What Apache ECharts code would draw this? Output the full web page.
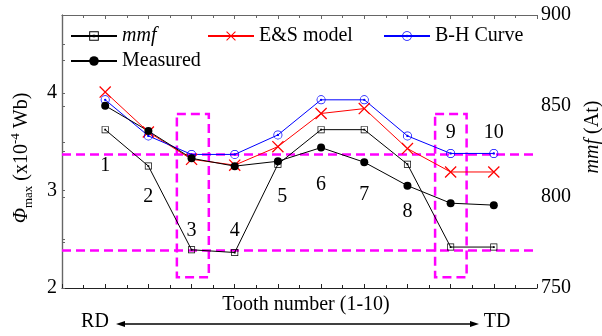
<!DOCTYPE html>
<html><head><meta charset="utf-8">
<script src="https://cdn.jsdelivr.net/npm/echarts@6/dist/echarts.min.js"></script>
<style>html,body{margin:0;padding:0;background:#fff}#c{width:602px;height:336px}</style>
</head><body><div id="c"></div>
<script>
// ---- data ----
const teeth = [1, 2, 3, 4, 5, 6, 7, 8, 9, 10];
const mmfValues = [837, 817, 771, 769.5, 818, 837, 837, 818, 772.5, 772.5];   // At, right axis
const esModel = [4.01, 3.60, 3.32, 3.26, 3.45, 3.79, 3.84, 3.43, 3.19, 3.19];   // x10^-4 Wb
const bhCurve = [3.93, 3.56, 3.37, 3.37, 3.57, 3.93, 3.93, 3.56, 3.38, 3.38];
const measured = [3.87, 3.61, 3.33, 3.25, 3.30, 3.44, 3.29, 3.05, 2.87, 2.85];
const toothLabels = ['1', '2', '3', '4', '5', '6', '7', '8', '9', '10'];
const toothLabelX = [1, 2, 3, 4, 5.1, 6, 7, 8, 9, 10];
const toothLabelY = [3.25, 2.94, 2.585, 2.585, 2.94, 3.056, 2.96, 2.78, 3.59, 3.59];
const refLines = [3.37, 2.39];
const boxX = [[2.66, 3.40], [8.64, 9.37]];
const boxY = [2.11, 3.785];
const leftTickLabels = ['2', '3', '4'];
const rightTickLabels = ['750', '800', '850', '900'];

const FONT = 'Liberation Serif';
const MAG = '#ff00ff';
const circleDot = 'path://M0,-10A10,10 0 1,1 0,10A10,10 0 1,1 0,-10ZM0,-8.3A8.3,8.3 0 1,0 0,8.3A8.3,8.3 0 1,0 0,-8.3ZM0,-2.6A2.6,2.6 0 1,1 0,2.6A2.6,2.6 0 1,1 0,-2.6Z';
const squareDot = 'path://M-10,-10L10,-10L10,10L-10,10ZM-8,-8L-8,8L8,8L8,-8ZM-2.6,-2.6L2.6,-2.6L2.6,2.6L-2.6,2.6Z';
const cross = 'path://M-10,-8.5L-8.5,-10L10,8.5L8.5,10ZM10,-8.5L-8.5,10L-10,8.5L8.5,-10Z';

const pair = (xs, ys) => xs.map((x, i) => [x, ys[i]]);

const chart = echarts.init(document.getElementById('c'), null, {renderer: 'canvas'});
const axisCol = '#666';
const legendBase = {
  orient: 'horizontal', itemWidth: 46, itemHeight: 12, itemGap: 0,
  textStyle: {fontFamily: FONT, fontSize: 20, color: '#000'},
  selectedMode: false, padding: 0
};
chart.setOption({
  animation: false,
  backgroundColor: '#fff',
  textStyle: {fontFamily: FONT},
  grid: {left: 62, right: 65, top: 15, bottom: 48, containLabel: false},
  legend: [
    Object.assign({}, legendBase, {left: 70, top: 26, data: ['mmf'],
      textStyle: {fontFamily: FONT, fontSize: 20, color: '#000', fontStyle: 'italic'}}),
    Object.assign({}, legendBase, {left: 207, top: 26, data: ['E&S model']}),
    Object.assign({}, legendBase, {left: 383, top: 26, data: ['B-H Curve']}),
    Object.assign({}, legendBase, {left: 70, top: 51, data: ['Measured']})
  ],
  xAxis: [
    {type: 'value', min: 0, max: 11, interval: 1, position: 'bottom',
      axisLine: {lineStyle: {color: '#222', width: 1.2}},
      axisTick: {inside: true, length: 4, lineStyle: {color: '#222'}},
      minorTick: {show: true, splitNumber: 2, length: 3, lineStyle: {color: '#222'}},
      axisLabel: {show: false}, splitLine: {show: false}},
    {type: 'value', min: 0, max: 11, interval: 1, position: 'top',
      axisLine: {lineStyle: {color: axisCol, width: 1.2}},
      axisTick: {inside: true, length: 4, lineStyle: {color: axisCol}},
      minorTick: {show: true, splitNumber: 2, length: 3, lineStyle: {color: axisCol}},
      axisLabel: {show: false}, splitLine: {show: false}}
  ],
  yAxis: [
    {type: 'value', min: 2, max: 4.8, interval: 0.5, position: 'left',
      axisLine: {show: true, lineStyle: {color: axisCol, width: 1.2}},
      axisTick: {inside: true, length: 3, lineStyle: {color: axisCol}},
      axisLabel: {fontFamily: FONT, fontSize: 20, color: '#000', margin: 5,
        formatter: v => leftTickLabels.indexOf(String(v)) >= 0 ? String(v) : ''},
      splitLine: {show: false}},
    {type: 'value', min: 750, max: 900, interval: 50, position: 'right',
      axisLine: {show: true, lineStyle: {color: axisCol, width: 1.2}},
      axisTick: {inside: false, length: 3, lineStyle: {color: axisCol}},
      minorTick: {show: true, splitNumber: 2, length: 3, lineStyle: {color: axisCol}},
      axisLabel: {fontFamily: FONT, fontSize: 20, color: '#000', margin: 4,
        formatter: v => rightTickLabels.indexOf(String(v)) >= 0 ? String(v) : ''},
      splitLine: {show: false}}
  ],
  series: [
    {name: 'annot', type: 'scatter', xAxisIndex: 0, yAxisIndex: 0, z: 1, silent: true,
      symbolSize: 0, itemStyle: {opacity: 1, color: '#000'},
      data: pair(toothLabelX, toothLabelY).map((p, i) => ({value: p, name: toothLabels[i]})),
      label: {show: true, position: 'inside', formatter: p => p.name, opacity: 1,
        fontFamily: FONT, fontSize: 20, color: '#000', textBorderWidth: 0, textBorderColor: 'transparent'},
      markLine: {silent: true, symbol: 'none', z: 1,
        label: {show: false},
        lineStyle: {color: MAG, width: 2.5, type: [9, 5]},
        data: refLines.map(v => ({yAxis: v}))},
      markArea: {silent: true, z: 1,
        itemStyle: {color: 'rgba(0,0,0,0)', borderColor: MAG, borderWidth: 2.5, borderType: [9, 5]},
        data: boxX.map(b => [{coord: [b[0], boxY[1]]}, {coord: [b[1], boxY[0]]}])}
    },
    {name: 'mmf', type: 'line', xAxisIndex: 0, yAxisIndex: 1, z: 3,
      data: pair(teeth, mmfValues), symbol: squareDot, symbolSize: 7,
      lineStyle: {color: '#000', width: 1}, itemStyle: {color: '#000', borderWidth: 0}},
    {name: 'E&S model', type: 'line', xAxisIndex: 0, yAxisIndex: 0, z: 3,
      data: pair(teeth, esModel), symbol: cross, symbolSize: 12,
      lineStyle: {color: '#ff0000', width: 1}, itemStyle: {color: '#ff0000', borderWidth: 0}},
    {name: 'B-H Curve', type: 'line', xAxisIndex: 0, yAxisIndex: 0, z: 3,
      data: pair(teeth, bhCurve), symbol: circleDot, symbolSize: 9,
      lineStyle: {color: '#0000ff', width: 1}, itemStyle: {color: '#0000ff', borderWidth: 0}},
    {name: 'Measured', type: 'line', xAxisIndex: 0, yAxisIndex: 0, z: 3,
      data: pair(teeth, measured), symbol: 'circle', symbolSize: 8,
      lineStyle: {color: '#000', width: 1}, itemStyle: {color: '#000', borderWidth: 0}}
  ],
  graphic: [
    {type: 'text', x: 22, y: 158, rotation: Math.PI / 2,
      style: {x: 0, y: 0, text: '{phi|Φ}{sub|max}{n| (x10}{sup|-4}{n| Wb)}',
        textAlign: 'center', textVerticalAlign: 'middle', fill: '#000',
        font: '20px Liberation Serif',
        rich: {
          phi: {fontFamily: FONT, fontSize: 20, fontStyle: 'italic', lineHeight: 26, verticalAlign: 'middle'},
          n: {fontFamily: FONT, fontSize: 20, lineHeight: 26, verticalAlign: 'middle'},
          sub: {fontFamily: FONT, fontSize: 13, lineHeight: 13, verticalAlign: 'bottom'},
          sup: {fontFamily: FONT, fontSize: 13, lineHeight: 13, verticalAlign: 'top'}
        }}},
    {type: 'text', x: 593, y: 137, rotation: Math.PI / 2,
      style: {x: 0, y: 0, text: '{i|mmf}{n| (At)}', textAlign: 'center', textVerticalAlign: 'middle',
        fill: '#000', font: '20px Liberation Serif',
        rich: {i: {fontFamily: FONT, fontSize: 20, fontStyle: 'italic'}, n: {fontFamily: FONT, fontSize: 20}}}},
    {type: 'text', x: 306, y: 305,
      style: {text: 'Tooth number (1-10)', textAlign: 'center', textVerticalAlign: 'middle',
        fill: '#000', font: '20px Liberation Serif'}},
    {type: 'text', x: 95, y: 322,
      style: {text: 'RD', textAlign: 'center', textVerticalAlign: 'middle', fill: '#000', font: '20px Liberation Serif'}},
    {type: 'text', x: 497, y: 322,
      style: {text: 'TD', textAlign: 'center', textVerticalAlign: 'middle', fill: '#000', font: '20px Liberation Serif'}},
    {type: 'line', shape: {x1: 122, y1: 324, x2: 473, y2: 324}, style: {stroke: '#000', lineWidth: 1.3}},
    {type: 'polygon', shape: {points: [[116, 324], [125, 321], [125, 327]]}, style: {fill: '#000'}},
    {type: 'polygon', shape: {points: [[479, 324], [470, 321], [470, 327]]}, style: {fill: '#000'}}
  ]
});
</script></body></html>
